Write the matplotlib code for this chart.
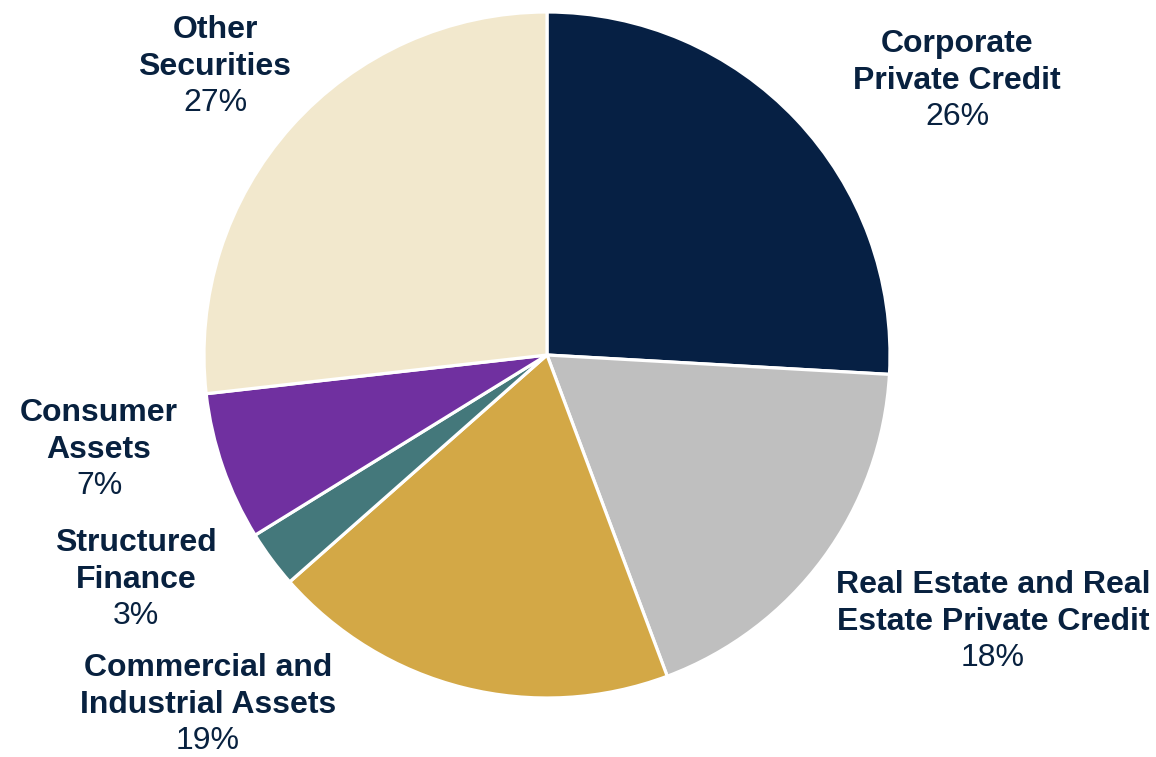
import matplotlib
matplotlib.use("Agg")
import matplotlib.pyplot as plt

plt.rcParams['font.family'] = ['Liberation Sans', 'DejaVu Sans']

# dane (udział w %)
kategorie = ["Corporate\nPrivate Credit",
             "Real Estate and Real\nEstate Private Credit",
             "Commercial and\nIndustrial Assets",
             "Structured\nFinance",
             "Consumer\nAssets",
             "Other\nSecurities"]
udzialy = [25.9, 18.4, 19.2, 2.7, 7.0, 26.8]
etykiety_proc = ["26%", "18%", "19%", "3%", "7%", "27%"]

kolory = ["#062044", "#BFBFBF", "#D3A846", "#44787B", "#7030A0", "#F2E8CD"]
kolor_tekstu = "#08213F"

# pozycje etykiet w pikselach obrazka (x, y od góry)
pozycje_etykiet = [(957, 81), (993, 622), (208, 705), (136, 580), (99, 450), (215, 67)]

W, H = 1156, 757
fig = plt.figure(figsize=(W / 100, H / 100), dpi=100)
ax = fig.add_axes([0, 0, 1, 1])

# środek i promień koła w pikselach
cx, cy, r = 547, 355, 343

ax.pie(udzialy, colors=kolory, startangle=90, counterclock=False,
       center=(cx, H - cy), radius=r, frame=True,
       wedgeprops=dict(edgecolor='white', linewidth=2.3))
ax.set_xlim(0, W)
ax.set_ylim(0, H)
ax.set_aspect('equal')
ax.axis('off')

for nazwa, proc, (px, py) in zip(kategorie, etykiety_proc, pozycje_etykiet):
    ax.text(px, H - py + 18.5, nazwa, ha='center', va='center', fontsize=23,
            fontweight='bold', color=kolor_tekstu, linespacing=1.27)
    ax.text(px, H - py - 36, proc, ha='center', va='center', fontsize=23,
            color=kolor_tekstu)

fig.savefig("out.png", dpi=100)
